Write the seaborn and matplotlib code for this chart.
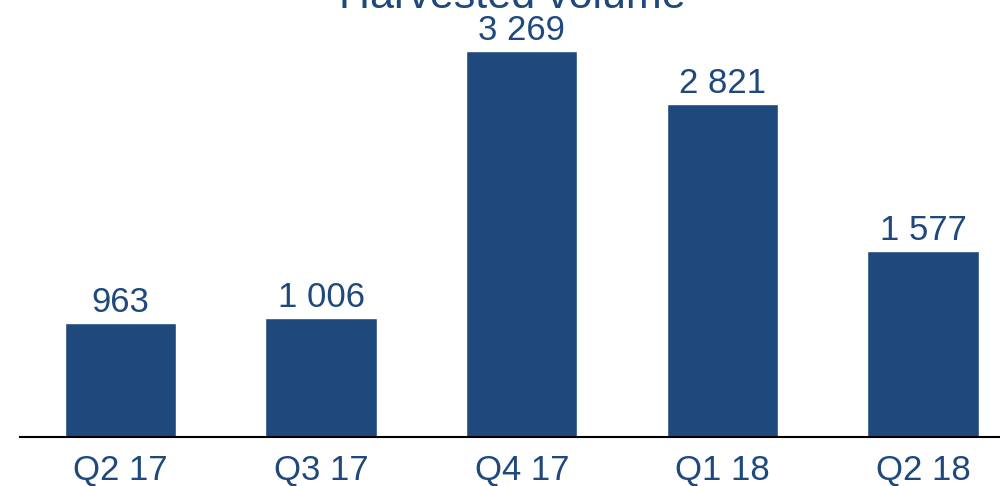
import matplotlib
matplotlib.use("Agg")
import matplotlib.pyplot as plt
import seaborn as sns
import pandas as pd

quarters = ["Q2 17", "Q3 17", "Q4 17", "Q1 18", "Q2 18"]
volumes = [963, 1006, 3269, 2821, 1577]
title = "Harvested volume"

navy = "#1F497D"

sns.set_theme(style="white")
plt.rcParams["font.family"] = ["Liberation Sans", "DejaVu Sans"]

df = pd.DataFrame({"quarter": quarters, "volume": volumes})

fig = plt.figure(figsize=(10, 4.86), dpi=100)
# axes runs slightly past the right edge of the canvas
ax = fig.add_axes([0.020, 0.1008, 1.0035, 0.8992])

sns.barplot(data=df, x="quarter", y="volume", color=navy, saturation=1,
            width=0.555, ax=ax)

ax.set_xlim(-0.5, 4.5)
ax.set_ylim(0, 3700)
ax.set_xlabel("")
ax.set_ylabel("")
ax.set_yticks([])

for spine in ["top", "right", "left"]:
    ax.spines[spine].set_visible(False)
ax.spines["bottom"].set_color("black")
ax.spines["bottom"].set_linewidth(1.5)

ax.tick_params(axis="x", length=0, pad=12, labelsize=25, labelcolor=navy)

for i, v in enumerate(volumes):
    label = f"{v:,}".replace(",", " ")
    ax.annotate(label, (i, v), xytext=(0, 3), textcoords="offset points",
                ha="center", va="bottom", fontsize=25, color=navy)

fig.text(0.512, 1 - 8 / 486, title, ha="center", va="baseline",
         fontsize=31, color=navy)

fig.savefig("out.png", dpi=100)
